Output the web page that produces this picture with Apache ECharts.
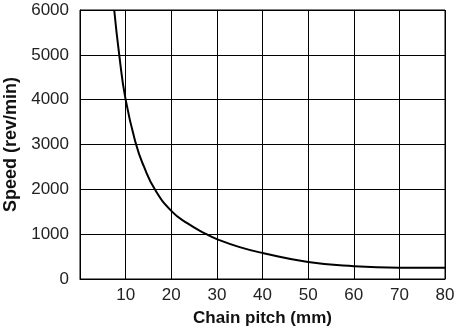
<!DOCTYPE html>
<html>
<head>
<meta charset="utf-8">
<script src="https://cdn.jsdelivr.net/npm/echarts@6/dist/echarts.min.js"></script>
<style>html,body{margin:0;padding:0;background:#fff}#c{width:455px;height:331px}</style>
</head>
<body>
<div id="c"></div>
<script>
const pitch = [7.5, 8.6, 10, 12.3, 14, 16.4, 20, 23.5, 27.7, 30, 35, 40, 50, 60, 70, 80];
const speed = [6000, 5000, 4000, 3000, 2510, 2000, 1520, 1245, 1000, 890, 710, 580, 380, 285, 253, 253];
const xTicks = [10, 20, 30, 40, 50, 60, 70, 80];
const yTicks = [0, 1000, 2000, 3000, 4000, 5000, 6000];
const xName = 'Chain pitch (mm)';
const yName = 'Speed (rev/min)';

const chart = echarts.init(document.getElementById('c'), null, {renderer: 'canvas'});
const font = 'Liberation Sans, Arial, Helvetica, sans-serif';
chart.setOption({
  animation: false,
  grid: {left: 80, right: 10, top: 10, bottom: 52, show: true, borderColor: '#000', borderWidth: 1,
         containLabel: false, outerBoundsMode: 'none'},
  xAxis: {
    type: 'value', min: 0, max: 80, interval: 10,
    name: xName, nameLocation: 'middle', nameGap: 31,
    nameTextStyle: {fontFamily: font, fontWeight: 'bold', fontSize: 17, color: '#111'},
    axisLine: {show: true, lineStyle: {color: '#000', width: 1}},
    axisTick: {show: false},
    axisLabel: {margin: 8, fontFamily: font, fontSize: 17, color: '#222',
      formatter: v => xTicks.includes(v) ? String(v) : ''},
    splitLine: {show: true, lineStyle: {color: '#000', width: 1}}
  },
  yAxis: {
    type: 'value', min: 0, max: 6000, interval: 1000,
    name: yName, nameLocation: 'middle', nameGap: 58,
    nameTextStyle: {fontFamily: font, fontWeight: 'bold', fontSize: 18, color: '#111'},
    axisLine: {show: true, lineStyle: {color: '#000', width: 1}},
    axisTick: {show: false},
    axisLabel: {margin: 11, fontFamily: font, fontSize: 17, color: '#222',
      formatter: v => yTicks.includes(v) ? String(v) : ''},
    splitLine: {show: true, lineStyle: {color: '#000', width: 1}}
  },
  series: [{
    type: 'line',
    data: pitch.map((p, i) => [p, speed[i]]),
    smooth: 0.5,
    showSymbol: false,
    clip: true,
    lineStyle: {color: '#000', width: 2}
  }]
});
</script>
</body>
</html>
